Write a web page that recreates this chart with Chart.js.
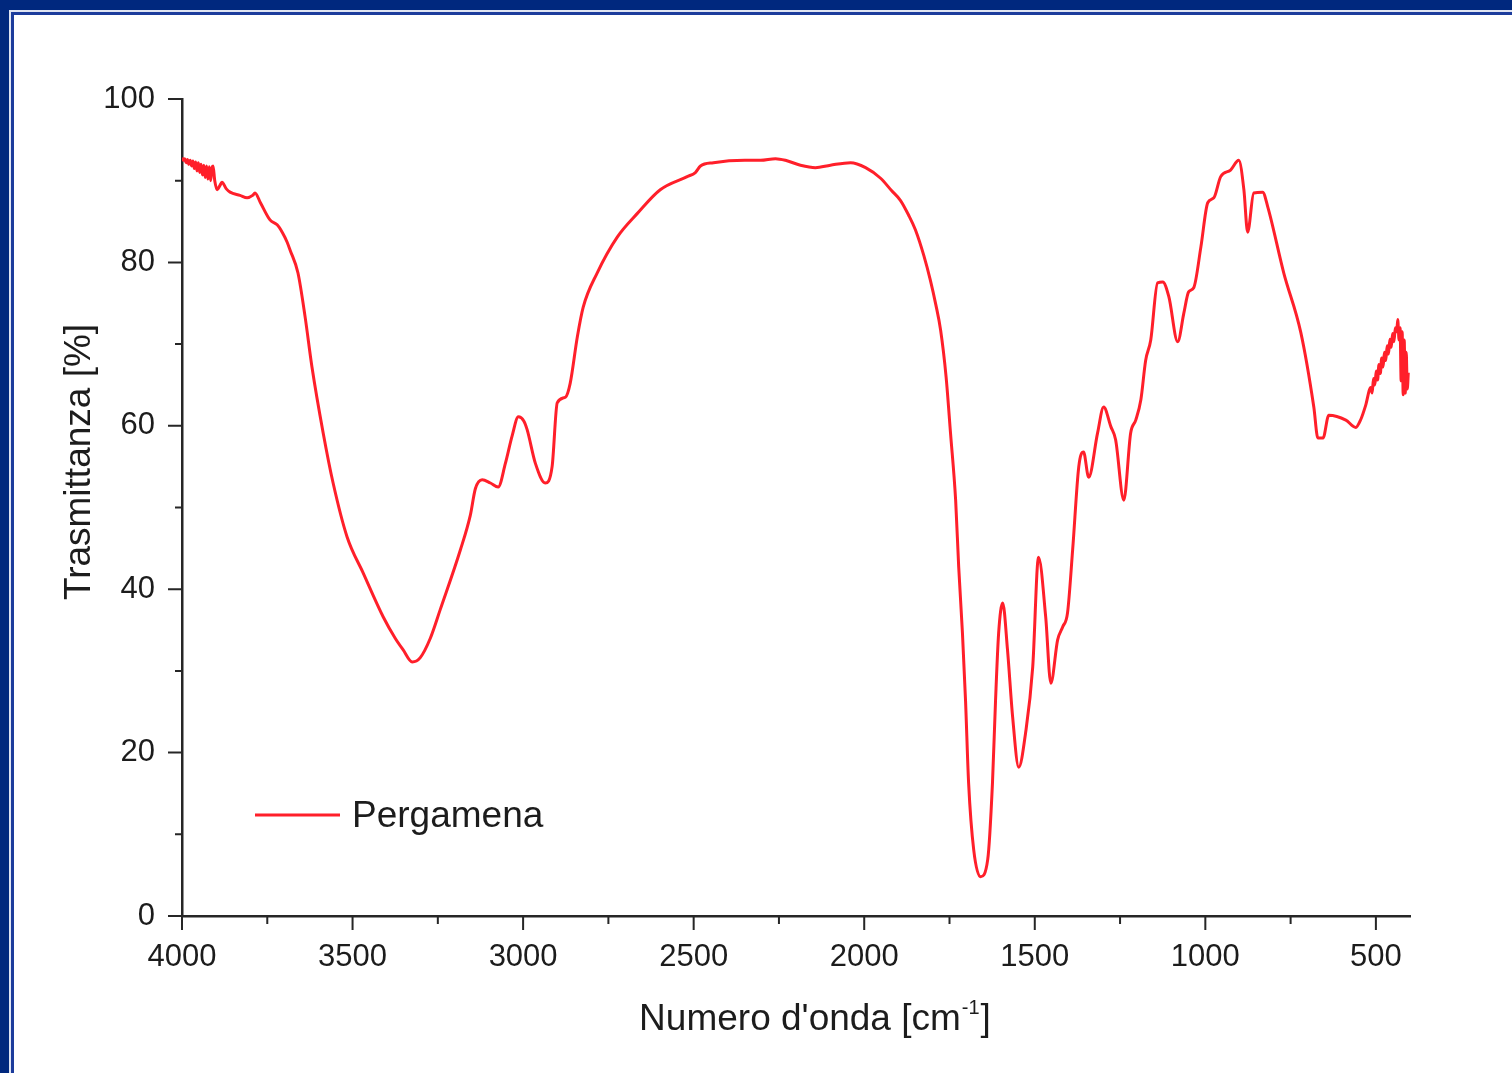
<!DOCTYPE html>
<html lang="it">
<head>
<meta charset="UTF-8">
<title>Pergamena - spettro IR</title>
<script src="https://cdn.jsdelivr.net/npm/chart.js@4.4.1/dist/chart.umd.min.js"></script>
<style>
    html, body {
        margin: 0;
        padding: 0;
    }
    body {
        width: 1512px;
        height: 1073px;
        background: #00287e;
        overflow: hidden;
        position: relative;
    }
    .frame {
        position: absolute;
        left: 9px;
        top: 10px;
        right: 0;
        bottom: 0;
        border-left: 2px solid #dfe4f2;
        border-top: 2px solid #dfe4f2;
    }
    .sheet {
        position: absolute;
        left: 0;
        top: 0;
        right: 0;
        bottom: 0;
        border-left: 3px solid #1c3c9c;
        border-top: 3px solid #1c3c9c;
        background: #fff;
    }
    #wrap {
        position: absolute;
        left: 0;
        top: 0;
        width: 1512px;
        height: 1073px;
    }
</style>
</head>
<body>
<div class="frame"><div class="sheet"></div></div>
<div id="wrap"><canvas id="spectrum"></canvas></div>

<script>
// spectrum: wavenumber (cm-1) and transmittance (%)
const wavenumber = [
    4000, 3996, 3992, 3988, 3984, 3980, 3976, 3972, 3968, 3964, 3960, 3956, 3952, 3948, 3944, 3940,
    3936, 3932, 3928, 3924, 3920, 3916, 3912, 3909, 3904, 3897, 3889, 3883, 3870, 3859, 3830, 3809,
    3793, 3786, 3770, 3742, 3721, 3705, 3692, 3683, 3660, 3639, 3619, 3586, 3557, 3516, 3469, 3410,
    3375, 3352, 3325, 3302, 3272, 3243, 3184, 3155, 3140, 3120, 3096, 3073, 3052, 3032, 3014, 2998,
    2988, 2964, 2935, 2915, 2900, 2876, 2862, 2841, 2824, 2783, 2724, 2665, 2598, 2519, 2495, 2480,
    2442, 2350, 2304, 2260, 2231, 2187, 2143, 2099, 2040, 1996, 1952, 1920, 1894, 1870, 1850, 1825,
    1806, 1790, 1776, 1760, 1747, 1732, 1723, 1712, 1703, 1694, 1679, 1659, 1638, 1624, 1615, 1606,
    1594, 1580, 1565, 1547, 1527, 1506, 1489, 1468, 1453, 1433, 1418, 1404, 1389, 1371, 1357, 1342,
    1316, 1298, 1277, 1263, 1239, 1219, 1204, 1189, 1175, 1160, 1140, 1125, 1107, 1081, 1063, 1049,
    1034, 1013, 993, 975, 955, 926, 902, 887, 876, 858, 832, 817, 770, 720, 682, 670,
    655, 638, 588, 559, 544, 530, 515, 511, 507, 503, 499, 495, 491, 487, 483, 479,
    475, 471, 467, 463, 459, 455, 451, 447, 443, 439, 436, 432, 429, 426, 423, 420,
    417, 414, 411, 408, 405
];
const transmittance = [
    92.8, 92.5, 92.7, 92.2, 92.6, 92.0, 92.5, 91.8, 92.4, 91.5, 92.3, 91.2, 92.2, 91.0, 92.0, 90.7,
    91.9, 90.4, 91.8, 90.2, 91.7, 90.0, 91.6, 91.8, 90.0, 88.9, 89.4, 89.8, 89.0, 88.6, 88.2, 87.9,
    88.2, 88.5, 87.3, 85.2, 84.6, 83.6, 82.5, 81.5, 78.7, 73.3, 67.2, 59.1, 53.0, 46.4, 42.0, 36.6,
    34.0, 32.6, 31.1, 31.6, 34.0, 37.5, 44.8, 49.0, 52.3, 53.4, 53.0, 52.5, 55.4, 58.8, 61.1, 60.6,
    59.5, 55.4, 53.0, 55.0, 62.8, 63.5, 65.2, 70.9, 74.5, 78.7, 83.1, 86.0, 88.9, 90.5, 91.0, 91.8,
    92.2, 92.5, 92.5, 92.7, 92.5, 91.9, 91.6, 91.9, 92.2, 91.6, 90.3, 88.8, 87.6, 85.8, 84.0, 80.8,
    77.8, 74.8, 71.7, 66.0, 59.1, 50.9, 42.7, 34.6, 26.4, 16.3, 8.1, 4.8, 6.9, 16.3, 26.4, 34.6,
    38.3, 32.6, 24.4, 18.2, 22.4, 30.5, 43.9, 36.6, 28.5, 33.8, 35.4, 37.1, 44.8, 55.0, 56.8, 53.7,
    59.1, 62.3, 59.9, 58.3, 50.9, 59.1, 60.7, 63.2, 68.0, 70.5, 77.5, 77.6, 75.8, 70.3, 73.8, 76.4,
    76.9, 81.9, 87.3, 87.9, 90.5, 91.3, 92.5, 88.9, 83.7, 88.5, 88.6, 86.8, 78.7, 71.4, 62.3, 58.5,
    58.5, 61.3, 60.7, 59.8, 60.8, 62.5, 64.7, 64.0, 65.8, 65.0, 66.7, 65.6, 67.5, 66.4, 68.3, 67.2,
    69.0, 68.0, 69.8, 68.8, 70.6, 69.6, 71.3, 70.3, 72.0, 71.5, 73.0, 70.5, 72.0, 65.5, 71.5, 63.8,
    70.5, 64.0, 69.0, 64.5, 66.5
];

const seriesLabel = 'Pergamena';
const xMajorTicks = [4000, 3500, 3000, 2500, 2000, 1500, 1000, 500];
const xMinorTicks = [3750, 3250, 2750, 2250, 1750, 1250, 750];
const yMajorTicks = [0, 20, 40, 60, 80, 100];
const yMinorTicks = [10, 30, 50, 70, 90];
const xTitle = ["Numero d'onda [cm", '-1', ']'];
const yTitle = 'Trasmittanza [%]';

const lineColor = '#ff1f2a';
const axisColor = '#262626';
const textColor = '#1c1c1c';
const fontFamily = "'Liberation Sans', Arial, sans-serif";

// tick marks, axis titles and the legend are drawn by hand
const decorations = {
    id: 'decorations',
    afterDraw(chart) {
        const ctx = chart.ctx;
        const area = chart.chartArea;
        const x = chart.scales.x;
        const y = chart.scales.y;
        ctx.save();

        ctx.strokeStyle = axisColor;
        ctx.lineWidth = 2;
        ctx.beginPath();
        xMajorTicks.forEach(v => {
            const px = x.getPixelForValue(v);
            ctx.moveTo(px, area.bottom);
            ctx.lineTo(px, area.bottom + 14);
        });
        xMinorTicks.forEach(v => {
            const px = x.getPixelForValue(v);
            ctx.moveTo(px, area.bottom);
            ctx.lineTo(px, area.bottom + 8);
        });
        yMajorTicks.forEach(v => {
            const py = y.getPixelForValue(v);
            ctx.moveTo(area.left, py);
            ctx.lineTo(area.left - 14, py);
        });
        yMinorTicks.forEach(v => {
            const py = y.getPixelForValue(v);
            ctx.moveTo(area.left, py);
            ctx.lineTo(area.left - 7, py);
        });
        ctx.stroke();

        // legend
        const ds = chart.data.datasets[0];
        const ly = area.bottom - 101;
        ctx.strokeStyle = ds.borderColor;
        ctx.lineWidth = 3;
        ctx.beginPath();
        ctx.moveTo(area.left + 73, ly);
        ctx.lineTo(area.left + 158, ly);
        ctx.stroke();
        ctx.fillStyle = textColor;
        ctx.font = '37px ' + fontFamily;
        ctx.textAlign = 'left';
        ctx.textBaseline = 'alphabetic';
        ctx.fillText(ds.label, area.left + 170, ly + 12);

        // x title with superscript
        const big = '37px ' + fontFamily;
        const small = '20px ' + fontFamily;
        ctx.font = big;
        const w0 = ctx.measureText(xTitle[0]).width;
        const w2 = ctx.measureText(xTitle[2]).width;
        ctx.font = small;
        const w1 = ctx.measureText(xTitle[1]).width;
        let tx = area.left + 633 - (w0 + w1 + w2 + 2) / 2;
        const ty = area.bottom + 114;
        ctx.font = big;
        ctx.fillText(xTitle[0], tx, ty);
        tx += w0 + 1;
        ctx.font = small;
        ctx.fillText(xTitle[1], tx, ty - 16);
        tx += w1 + 1;
        ctx.font = big;
        ctx.fillText(xTitle[2], tx, ty);

        // y title
        ctx.translate(area.left - 102, area.top + 363);
        ctx.rotate(-Math.PI / 2);
        ctx.textAlign = 'center';
        ctx.textBaseline = 'middle';
        ctx.font = big;
        ctx.fillText(yTitle, 0, 0);

        ctx.restore();
    }
};

const ctx = document.getElementById('spectrum').getContext('2d');
new Chart(ctx, {
    type: 'line',
    data: {
        datasets: [{
            label: seriesLabel,
            data: wavenumber.map((w, i) => ({ x: w, y: transmittance[i] })),
            borderColor: lineColor,
            borderWidth: 3,
            pointRadius: 0,
            fill: false,
            cubicInterpolationMode: 'monotone'
        }]
    },
    options: {
        responsive: true,
        maintainAspectRatio: false,
        animation: false,
        layout: {
            padding: { top: 99, right: 102, bottom: 0, left: 0 }
        },
        plugins: {
            legend: { display: false },
            tooltip: { enabled: false }
        },
        scales: {
            x: {
                type: 'linear',
                reverse: true,
                min: 400,
                max: 4000,
                grid: { display: false, drawTicks: false },
                border: { display: true, color: axisColor, width: 2.5 },
                ticks: {
                    padding: 23,
                    color: textColor,
                    font: { family: fontFamily, size: 31 },
                    maxRotation: 0,
                    callback: v => String(v)
                },
                afterBuildTicks: scale => {
                    scale.ticks = xMajorTicks.map(v => ({ value: v }));
                },
                afterFit: scale => {
                    scale.height = 157;
                }
            },
            y: {
                min: 0,
                max: 100,
                grid: { display: false, drawTicks: false },
                border: { display: true, color: axisColor, width: 2.5 },
                ticks: {
                    padding: 27,
                    color: textColor,
                    font: { family: fontFamily, size: 31 },
                    callback: v => String(v)
                },
                afterBuildTicks: scale => {
                    scale.ticks = yMajorTicks.map(v => ({ value: v }));
                },
                afterFit: scale => {
                    scale.width = 182;
                }
            }
        }
    },
    plugins: [decorations]
});
</script>
</body>
</html>
